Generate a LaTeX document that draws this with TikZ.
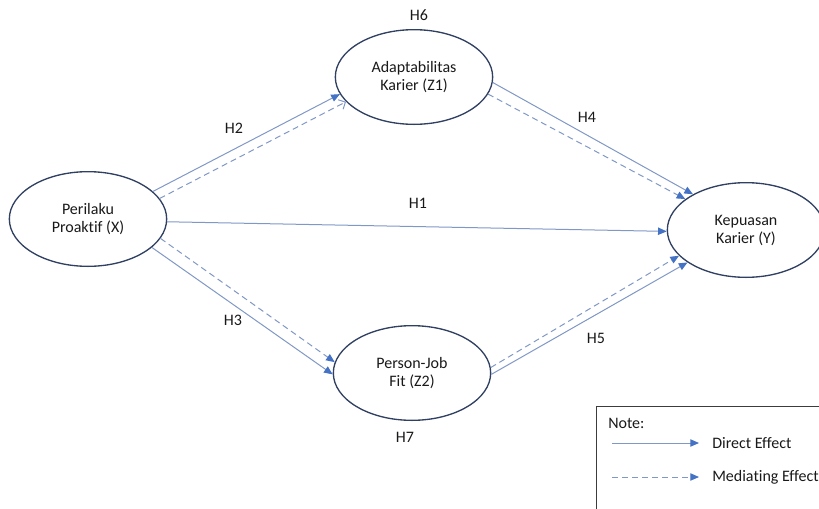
\documentclass[tikz,border=0pt]{standalone}
\usepackage{fontspec}
\setmainfont[Ligatures=NoCommon]{Carlito}
\usepackage{tikz}
\usetikzlibrary{arrows.meta, shapes.geometric}
\definecolor{modelInk}{RGB}{25,25,25}
\definecolor{modelEdge}{RGB}{48,64,98}
\definecolor{modelLine}{RGB}{128,152,198}
\definecolor{modelHead}{RGB}{68,114,196}
\definecolor{modelBox}{RGB}{60,60,60}
\tikzset{
  % latent construct, drawn as an ellipse
  construct/.style={
    ellipse, draw=modelEdge, line width=1pt, align=center,
    minimum width=118pt, minimum height=71pt, inner sep=0pt,
    font=\fontsize{12}{13.5}\selectfont, text=modelInk
  },
  % hypothesis labels
  hyp/.style={font=\fontsize{12}{14}\selectfont, text=modelInk, inner sep=1pt},
  % arrows
  direct/.style={-{Triangle[length=6.5pt,width=5.5pt,color=modelHead,fill=modelHead]},
                 draw=modelLine, line width=0.75pt},
  mediate/.style={direct, dash pattern=on 4.5pt off 3pt},
  mediateopen/.style={-{Straight Barb[length=4pt,width=8pt,line width=0.75pt]},
                 draw=modelLine, line width=0.75pt, dash pattern=on 4.5pt off 3pt},
  legendtext/.style={font=\fontsize{12}{14}\selectfont, text=modelInk},
}
\begin{document}
\begin{tikzpicture}[x=0.75pt, y=-0.75pt]
\clip (0,0) rectangle (819,508);

% ------------------------------- constructs --------------------------------
\node[construct] (x)  at (88,219)  {Perilaku\\Proaktif (X)};
\node[construct] (z1) at (414,77)  {Adaptabilitas\\Karier (Z1)};
\node[construct] (z2) at (412,373) {Person-Job\\Fit (Z2)};
\node[construct] (y)  at (746,230) {Kepuasan\\Karier (Y)};

% ------------------------------- paths -------------------------------------
\draw[direct]      (x.23.4)  -- (z1.193.7);
\draw[mediateopen] (x.16.6)  -- (z1.200.7);
\draw[direct]      (x.-2)    -- (y.181.5);
\draw[mediate]     (x.-15.8) -- (z2.172.4);
\draw[direct]      (x.-24)   -- (z2.181.5);
\draw[direct]      (z1.-4.4) -- (y.146.3);
\draw[mediate]     (z1.-13.3) -- (y.153.8);
\draw[mediate]     (z2.4.4)  -- (y.201.3);
\draw[direct]      (z2.-1.5) -- (y.209.2);

% ------------------------------- hypotheses --------------------------------
\node[hyp] (h1) at (418,203) {H1};
\node[hyp] (h2) at (234,128) {H2};
\node[hyp] (h3) at (233,320) {H3};
\node[hyp] (h4) at (587,117) {H4};
\node[hyp] (h5) at (596,338) {H5};
\node[hyp] (h6) at (419,15)  {H6};
\node[hyp] (h7) at (405,437) {H7};

% ------------------------------- legend ------------------------------------
\node[draw=modelBox, line width=1.1pt, anchor=north west,
      minimum width=240pt, minimum height=100pt] (legend) at (596,406) {};
\node[legendtext, anchor=west, inner sep=0pt] (note) at (608,423) {Note:};
\coordinate (d0) at (612,443);
\coordinate (m0) at (612,477);
\node[legendtext, anchor=west, inner xsep=9.75pt] (directlbl) at (699,443) {Direct Effect};
\node[legendtext, anchor=west, inner xsep=9.75pt] (mediatelbl) at (699,477) {Mediating Effect};
\draw[direct]  (d0) -- (directlbl);
\draw[mediate] (m0) -- (mediatelbl);

\end{tikzpicture}
\end{document}
